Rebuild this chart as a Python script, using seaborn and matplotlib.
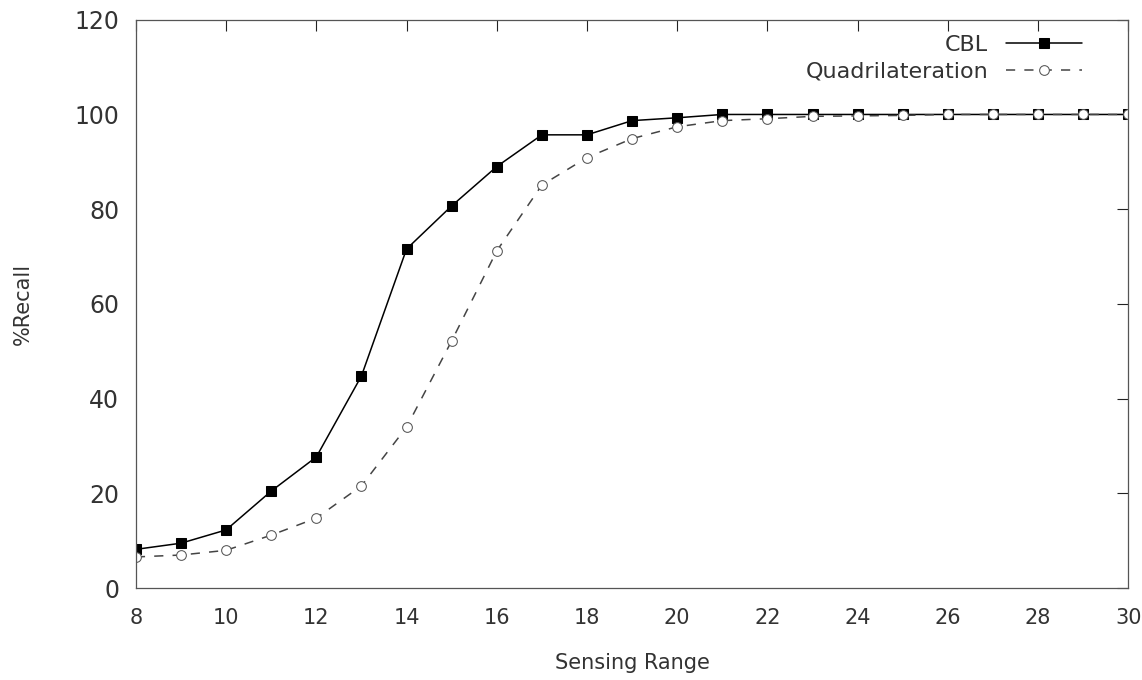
import matplotlib
matplotlib.use("Agg")
import matplotlib.pyplot as plt
import seaborn as sns
import pandas as pd

sensing_range = list(range(8, 31))
cbl = [8.2, 9.5, 12.3, 20.5, 27.7, 44.8, 71.6, 80.7, 89.0, 95.7, 95.7, 98.7, 99.3,
       100, 100, 100, 100, 100, 100, 100, 100, 100, 100]
quad = [6.6, 7.0, 8.0, 11.2, 14.8, 21.6, 34.0, 52.2, 71.2, 85.1, 90.9, 94.9, 97.4,
        98.7, 99.1, 99.6, 99.7, 99.8, 100, 100, 100, 100, 100]

df = pd.DataFrame({"x": sensing_range, "CBL": cbl, "Quadrilateration": quad})

sns.set_style("white")
plt.rcParams["font.family"] = ["DejaVu Sans"]

fig = plt.figure(figsize=(11.42, 6.8), dpi=100)
ax = fig.add_axes([0.119, 0.135, 0.869, 0.836])

sns.lineplot(data=df, x="x", y="CBL", ax=ax, color="black", linewidth=1.1,
             marker="s", markersize=7.5, markeredgecolor="black",
             markerfacecolor="black", label="CBL")
sns.lineplot(data=df, x="x", y="Quadrilateration", ax=ax, color="#444444",
             linewidth=1.1, linestyle=(0, (6, 6)), marker="o", markersize=7,
             markeredgecolor="#555555", markerfacecolor="white",
             label="Quadrilateration")

ax.set_xlim(8, 30)
ax.set_ylim(0, 120)
ax.set_xticks(range(8, 31, 2))
ax.set_yticks(range(0, 121, 20))
ax.tick_params(direction="in", length=8, width=0.8, top=True, right=True,
               colors="#222222", labelcolor="#333333")
ax.tick_params(axis="x", labelsize=15, pad=14)
ax.tick_params(axis="y", labelsize=17, pad=12)
for s in ax.spines.values():
    s.set_color("#555555")
    s.set_linewidth(0.9)

ax.set_xlabel("Sensing Range", fontsize=15, color="#333333", labelpad=18)
ax.set_ylabel("%Recall", fontsize=15, color="#333333", labelpad=30)

ax.legend(loc="upper right", bbox_to_anchor=(0.973, 1.008), frameon=False,
          markerfirst=False, fontsize=16, handlelength=3.4, handletextpad=0.8,
          labelcolor="#333333", labelspacing=0.3)

fig.savefig("out.png", dpi=100)
